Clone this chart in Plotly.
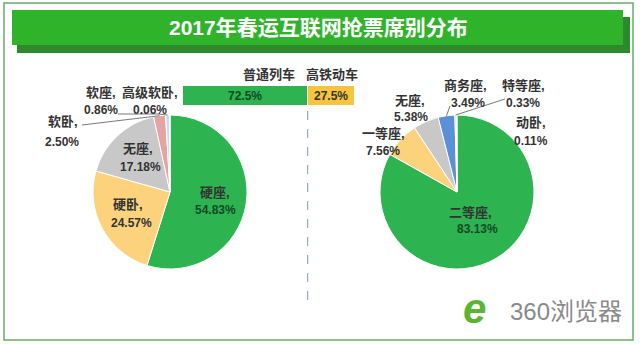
import math
import plotly.graph_objects as go

W, H = 640, 344

# ---- data ----
title_text = "2017年春运互联网抢票席别分布"
left_labels = ["硬座", "硬卧", "无座", "软卧", "软座", "高级软卧"]
left_values = [54.83, 24.57, 17.18, 2.50, 0.86, 0.06]
right_labels = ["二等座", "一等座", "无座", "商务座", "特等座", "动卧"]
right_values = [83.13, 7.56, 5.38, 3.49, 0.33, 0.11]
bar_labels = ["普通列车", "高铁动车"]
bar_values = [72.5, 27.5]
logo_text = "360浏览器"

# ---- styles / layout ----
left_colors = ["#2db350", "#fcd27c", "#c8c8c8", "#e7a2a4", "#bfe3ea", "#d9d9d9"]
right_colors = ["#2db350", "#fcd27c", "#c8c8c8", "#5b8fd6", "#bfe3ea", "#e7a2a4"]
bar_colors = ["#2db350", "#f7c43c"]
bar_text_colors = ["#124a24", "#333333"]

FONT = "Liberation Sans, Arial, Noto Sans CJK SC, sans-serif"

LC = (170, 192)   # left pie centre (px)
RC = (457, 192)   # right pie centre (px)
R = 77            # pie radius (px)
BAR_BOX = (183, 86, 355, 106)  # x0, y0, x1, y1 in px


def X(px):
    return px / W


def Y(py):
    return 1 - py / H


def pie_domain(c):
    return dict(x=[X(c[0] - R), X(c[0] + R)], y=[Y(c[1] + R), Y(c[1] - R)])


def edge_point(c, values, i):
    tot = sum(values)
    mid = (sum(values[:i]) + values[i] / 2) / tot * 2 * math.pi
    return c[0] + R * math.sin(mid), c[1] - R * math.cos(mid)


fig = go.Figure()

fig.add_trace(go.Pie(
    labels=left_labels, values=left_values, sort=False, direction="clockwise",
    rotation=0, domain=pie_domain(LC), textinfo="none", hoverinfo="label+percent",
    marker=dict(colors=left_colors, line=dict(color="white", width=1)),
    showlegend=False))

fig.add_trace(go.Pie(
    labels=right_labels, values=right_values, sort=False, direction="clockwise",
    rotation=0, domain=pie_domain(RC), textinfo="none", hoverinfo="label+percent",
    marker=dict(colors=right_colors, line=dict(color="white", width=1)),
    showlegend=False))

for i, (lab, v) in enumerate(zip(bar_labels, bar_values)):
    fig.add_trace(go.Bar(
        y=[0], x=[v], orientation="h", name=lab,
        marker=dict(color=bar_colors[i], line=dict(color="white", width=1)),
        textposition="none",
        showlegend=False, xaxis="x", yaxis="y"))

annotations = []


def txt(x, y, s, size=12, color="#333333", bold=True):
    annotations.append(dict(
        x=X(x), y=Y(y), xref="paper", yref="paper", text=s, showarrow=False,
        xanchor="center", yanchor="middle",
        font=dict(family=FONT, size=size, color=color, weight="bold" if bold else "normal")))


# bar value labels, centred on each stacked segment (axis coordinates)
start = 0
for i, v in enumerate(bar_values):
    annotations.append(dict(
        x=start + v / 2, y=0, xref="x", yref="y", text=f"{v}%", showarrow=False,
        xanchor="center", yanchor="middle",
        font=dict(family=FONT, size=12, color=bar_text_colors[i], weight="bold")))
    start += v

# label positions (name line centre, value line centre) in px
left_pos = [((215, 192), (215, 210)), ((128, 205), (131, 223)), ((138, 148), (140, 167)),
            ((63, 122), (62, 142)), ((101, 92), (101, 110)), ((150, 92), (150, 110))]
right_pos = [((470, 212), (477, 229)), ((383, 133), (383, 151)), ((410, 100), (411, 117)),
             ((465, 85), (468, 103)), ((523, 85), (523, 103)), ((531, 123), (531, 141))]

for i, (lab, v) in enumerate(zip(left_labels, left_values)):
    (nx, ny), (vx, vy) = left_pos[i]
    vcol = "#124a24" if i == 0 else "#333333"
    txt(nx, ny, lab + ",", size=13)
    txt(vx, vy, f"{v:.2f}%", color=vcol)

for i, (lab, v) in enumerate(zip(right_labels, right_values)):
    (nx, ny), (vx, vy) = right_pos[i]
    vcol = "#124a24" if i == 0 else "#333333"
    txt(nx, ny, lab + ",", size=13)
    txt(vx, vy, f"{v:.2f}%", color=vcol)

# bar category labels
txt(269, 75, bar_labels[0], size=13)
txt(332, 75, bar_labels[1], size=13)

# title
txt(318, 27, title_text, size=21, color="white")

# logo
txt(474, 308, "<i>e</i>", size=42, color="#5cb531")
txt(566, 311, logo_text, size=24, color="#8a8a8a", bold=False)

shapes = []
# outer frame
shapes.append(dict(type="rect", xref="paper", yref="paper", x0=X(4), x1=X(633), y0=Y(340), y1=Y(3),
                   line=dict(color="#6aaa6a", width=1.5), layer="below"))
# banner shadow + banner
shapes.append(dict(type="rect", xref="paper", yref="paper", x0=X(17), x1=X(630), y0=Y(53), y1=Y(17),
                   fillcolor="#2c8a2c", line=dict(width=0), layer="below"))
shapes.append(dict(type="rect", xref="paper", yref="paper", x0=X(12), x1=X(623), y0=Y(45), y1=Y(10),
                   fillcolor="#2fb32b", line=dict(width=0), layer="below"))

# dashed divider at the split of the bar
shapes.append(dict(type="line", xref="x", yref="paper", x0=bar_values[0], x1=bar_values[0],
                   y0=Y(300), y1=Y(108), line=dict(color="#8098b4", width=1, dash="dash")))


def path_px(points):
    d = "M " + " L ".join(f"{X(px)},{Y(py)}" for px, py in points)
    return dict(type="path", xref="paper", yref="paper", path=d,
                line=dict(color="#555555", width=0.8))


# leader lines
e = edge_point(LC, left_values, 3)
shapes.append(path_px([(82, 125), e]))
e = edge_point(LC, left_values, 4)
shapes.append(path_px([(118, 114), (158, 114), e]))
e = edge_point(RC, right_values, 3)
shapes.append(path_px([(450, 106), e]))
e = edge_point(RC, right_values, 4)
shapes.append(path_px([(505, 99), e]))

fig.update_layout(
    width=W, height=H, margin=dict(l=0, r=0, t=0, b=0),
    paper_bgcolor="white", plot_bgcolor="rgba(0,0,0,0)",
    barmode="stack", bargap=0,
    xaxis=dict(domain=[X(BAR_BOX[0]), X(BAR_BOX[2])], range=[0, 100], visible=False, fixedrange=True),
    yaxis=dict(domain=[Y(BAR_BOX[3]), Y(BAR_BOX[1])], range=[-0.5, 0.5], visible=False, fixedrange=True),
    annotations=annotations, shapes=shapes,
    font=dict(family=FONT),
)

fig.write_html("out.html")
